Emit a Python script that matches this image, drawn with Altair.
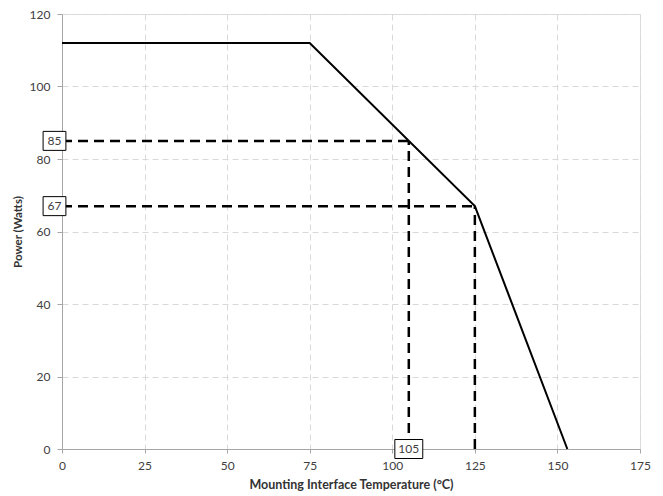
import altair as alt
import pandas as pd

# Derating curve
temps = [0, 75, 125, 153]
power = [112, 112, 67, 0]

# Marked operating points (temperature, power)
mark_temps = [105, 125]
mark_powers = [85, 67]

# Boxed labels
left_labels = ["85", "67"]
left_label_y = [85, 67]
bottom_labels = ["105"]
bottom_label_x = [105]

x_ticks = [0, 25, 50, 75, 100, 125, 150, 175]
y_ticks = [0, 20, 40, 60, 80, 100, 120]

FONT = "Lato"

curve_df = pd.DataFrame({"t": temps, "p": power})
guides_df = pd.DataFrame({"t": mark_temps, "p": mark_powers, "zero": [0] * len(mark_temps)})
left_df = pd.DataFrame({"label": left_labels, "p": left_label_y, "t": [0] * len(left_labels)})
bottom_df = pd.DataFrame({"label": bottom_labels, "t": bottom_label_x, "p": [0] * len(bottom_labels)})

xscale = alt.Scale(domain=[0, 175], nice=False, zero=False)
yscale = alt.Scale(domain=[0, 120], nice=False, zero=False)

xaxis = alt.Axis(
    title="Mounting Interface Temperature (°C)",
    values=x_ticks, grid=True, gridDash=[6, 4], gridColor="#d9d9d9",
    domainColor="#a6a6a6", tickColor="#a6a6a6", tickSize=4,
    labelFont=FONT, labelFontSize=12, labelColor="#404040", labelPadding=7,
    titleFont=FONT, titleFontSize=12.5, titleFontWeight="bold", titleColor="#333333",
    titlePadding=7, labelFlush=False,
)
yaxis = alt.Axis(
    title="Power (Watts)",
    values=y_ticks, grid=True, gridDash=[6, 4], gridColor="#d9d9d9",
    domainColor="#a6a6a6", tickColor="#a6a6a6", tickSize=5,
    labelFont=FONT, labelFontSize=12, labelColor="#404040", labelPadding=7,
    titleFont=FONT, titleFontSize=11.5, titleFontWeight="bold", titleColor="#333333",
    titlePadding=6, labelFlush=False,
)

base_x = alt.X("t:Q", scale=xscale, axis=xaxis)
base_y = alt.Y("p:Q", scale=yscale, axis=yaxis)

curve = alt.Chart(curve_df).mark_line(color="black", strokeWidth=2).encode(x=base_x, y=base_y)

hdash = alt.Chart(guides_df).mark_rule(color="black", strokeWidth=2.5, strokeDash=[10, 6]).encode(
    x=alt.X("zero:Q", scale=xscale), x2="t:Q", y=alt.Y("p:Q", scale=yscale)
)
vdash = alt.Chart(guides_df).mark_rule(color="black", strokeWidth=2.5, strokeDash=[10, 6]).encode(
    x=alt.X("t:Q", scale=xscale), y=alt.Y("zero:Q", scale=yscale), y2="p:Q"
)

box_left = alt.Chart(left_df).mark_point(
    shape="M-1.2,-1H1.2V1H-1.2Z", size=361, filled=True, fill="white",
    stroke="black", strokeWidth=1, opacity=1, xOffset=-7.5,
).encode(x=alt.X("t:Q", scale=xscale), y=alt.Y("p:Q", scale=yscale))
text_left = alt.Chart(left_df).mark_text(
    font=FONT, fontSize=12, color="#404040", dx=-7.5, align="center", baseline="middle"
).encode(x=alt.X("t:Q", scale=xscale), y=alt.Y("p:Q", scale=yscale), text="label:N")

box_bottom = alt.Chart(bottom_df).mark_point(
    shape="M-1.47,-1H1.47V1H-1.47Z", size=361, filled=True, fill="white",
    stroke="black", strokeWidth=1, opacity=1,
).encode(x=alt.X("t:Q", scale=xscale), y=alt.Y("p:Q", scale=yscale))
text_bottom = alt.Chart(bottom_df).mark_text(
    font=FONT, fontSize=12, color="#404040", align="center", baseline="middle"
).encode(x=alt.X("t:Q", scale=xscale), y=alt.Y("p:Q", scale=yscale), text="label:N")

chart = alt.layer(curve, hdash, vdash, box_left, text_left, box_bottom, text_bottom).properties(
    width=578, height=435,
    autosize=alt.AutoSizeParams(type="none"),
    padding={"left": 54, "top": 6, "right": 15, "bottom": 50},
).configure_view(stroke=None).configure(background="white")

chart.save("out.html", embed_options={"renderer": "svg", "actions": False})
